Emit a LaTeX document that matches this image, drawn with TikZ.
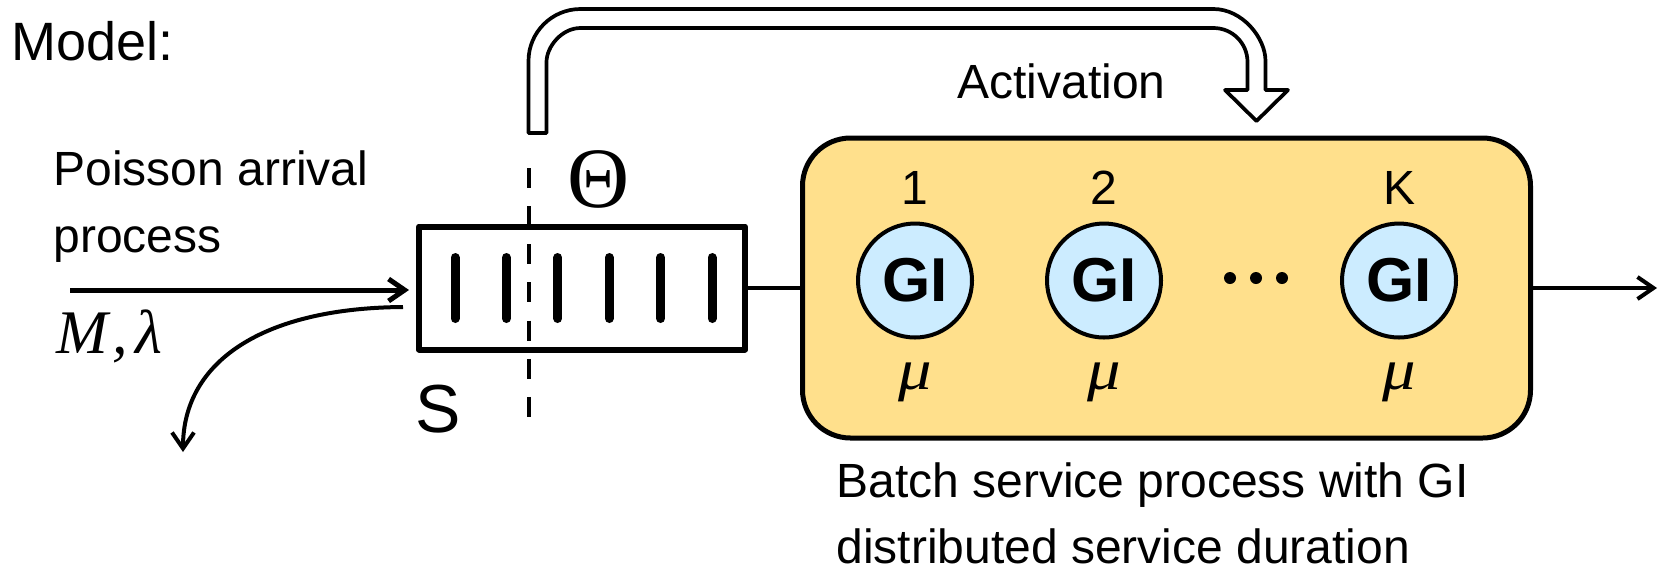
\documentclass[tikz,border=0pt]{standalone}
\usepackage{fontspec}
\setmainfont{Liberation Sans}
\newfontfamily\tnr{Liberation Serif}
\newfontfamily\tnrwide{Liberation Serif}[FakeStretch=1.15]
\usetikzlibrary{arrows.meta}
\definecolor{boxyellow}{HTML}{FFE08C}
\definecolor{giblue}{HTML}{CCECFF}
\begin{document}
\begin{tikzpicture}[x=0.5pt,y=-0.5pt,line join=round,
  txt/.style={inner sep=0pt,anchor=base west},
  arr/.style={-{Straight Barb[length=8pt,width=11pt]}},
  server/.style={circle,draw,line width=2pt,fill=giblue,minimum size=57pt,inner sep=0pt,
    font=\fontsize{31}{33}\selectfont\bfseries},
  numlbl/.style={inner sep=0pt,anchor=base,font=\fontsize{24}{26}\selectfont},
  mulbl/.style={inner sep=0pt,anchor=base,font=\tnrwide\itshape\fontsize{29}{31}\selectfont},
  qbar/.style={line width=4.5pt,line cap=round},
  dashline/.style={line width=2.25pt,dash pattern=on 10pt off 9.08pt},
  hollow/.style={line width=1.85pt,fill=white},
  dot/.style={circle,fill,inner sep=0pt,minimum size=6pt}]
\useasboundingbox (0,0) rectangle (1660,570);

% texts
\node[txt,font=\fontsize{27}{32}\selectfont] (model) at (11,60) {Model:};
\node[txt,font=\fontsize{24}{33.5}\selectfont] (poisson) at (53,185)
  {\begin{tabular}[t]{@{}l@{}}Poisson arrival\\process\end{tabular}};
\node[txt,font=\tnr\itshape\fontsize{31}{33}\selectfont] (mlam) at (56,353) {M\kern2pt,\kern4pt λ};
\node[txt,font=\fontsize{24}{28}\selectfont] (activation) at (957,98) {Activation};
\node[txt,font=\fontsize{24}{33}\selectfont] (batch) at (836,497)
  {\begin{tabular}[t]{@{}l@{}}Batch service process with GI\\distributed service duration\end{tabular}};
\node[inner sep=0pt,anchor=base,font=\tnr\fontsize{43}{45}\selectfont] (theta) at (599,207) {Θ};
\node[txt,font=\fontsize{34}{36}\selectfont] (slabel) at (415,432) {S};

% queue
\node[draw,line width=3pt,minimum width=163pt,minimum height=61.5pt,inner sep=0pt] (queue) at (582,288) {};
\foreach \i in {0,...,5} \draw[qbar] ({455+51.4*\i},257.5) -- ({455+51.4*\i},318.5);

% service box
\node[draw,line width=2.5pt,fill=boxyellow,rounded corners=24pt,minimum width=364pt,
  minimum height=150pt,inner sep=0pt] (box) at (1166.5,288) {};
\foreach \n/\x/\lab in {1/915/1,2/1104/2,3/1399/K}{
  \node[server] (s\n) at (\x,280.5) {GI};
  \node[numlbl] (n\n) at (\x,204) {\lab};
  \node[mulbl] (m\n) at (\x,389) {μ};
}
\node[dot] (d1) at (1230,278) {};
\node[dot] (d2) at (1256,278) {};
\node[dot] (d3) at (1282,278) {};

% connectors
\coordinate (inS) at (70,290);
\draw[arr,line width=2.5pt,shorten >=3.5pt] (inS) -- (inS -| queue.west);
\coordinate (cS) at (403,307);
\coordinate (cE) at (183,452);
\draw[arr,line width=2pt] (cS) .. controls (262,308) and (183,362) .. (cE);
\draw[line width=2pt] (queue.east) -- (box.west);
\coordinate (outE) at (1657,288);
\draw[arr,line width=2pt] (box.east) -- (outE);

% dashed separator
\coordinate (dtop) at (529,168);
\coordinate (dbot) at (529,417);
\draw[dashline] (dtop) -- (dbot);

% hollow activation arrow
\draw[hollow] (528.5,133) -- (528.5,61)
  .. controls (528.5,32.3) and (551.8,9) .. (580.5,9) -- (1213.5,9)
  .. controls (1242.2,9) and (1265.5,37.7) .. (1265.5,61) -- (1265.5,90)
  -- (1288,90) -- (1256.5,121) -- (1225,90) -- (1247.5,90) -- (1247.5,62)
  .. controls (1247.5,43.2) and (1232.3,28) .. (1213.5,28) -- (580.5,28)
  .. controls (561.7,28) and (546.5,46.8) .. (546.5,62) -- (546.5,133) -- cycle;
\end{tikzpicture}
\end{document}
